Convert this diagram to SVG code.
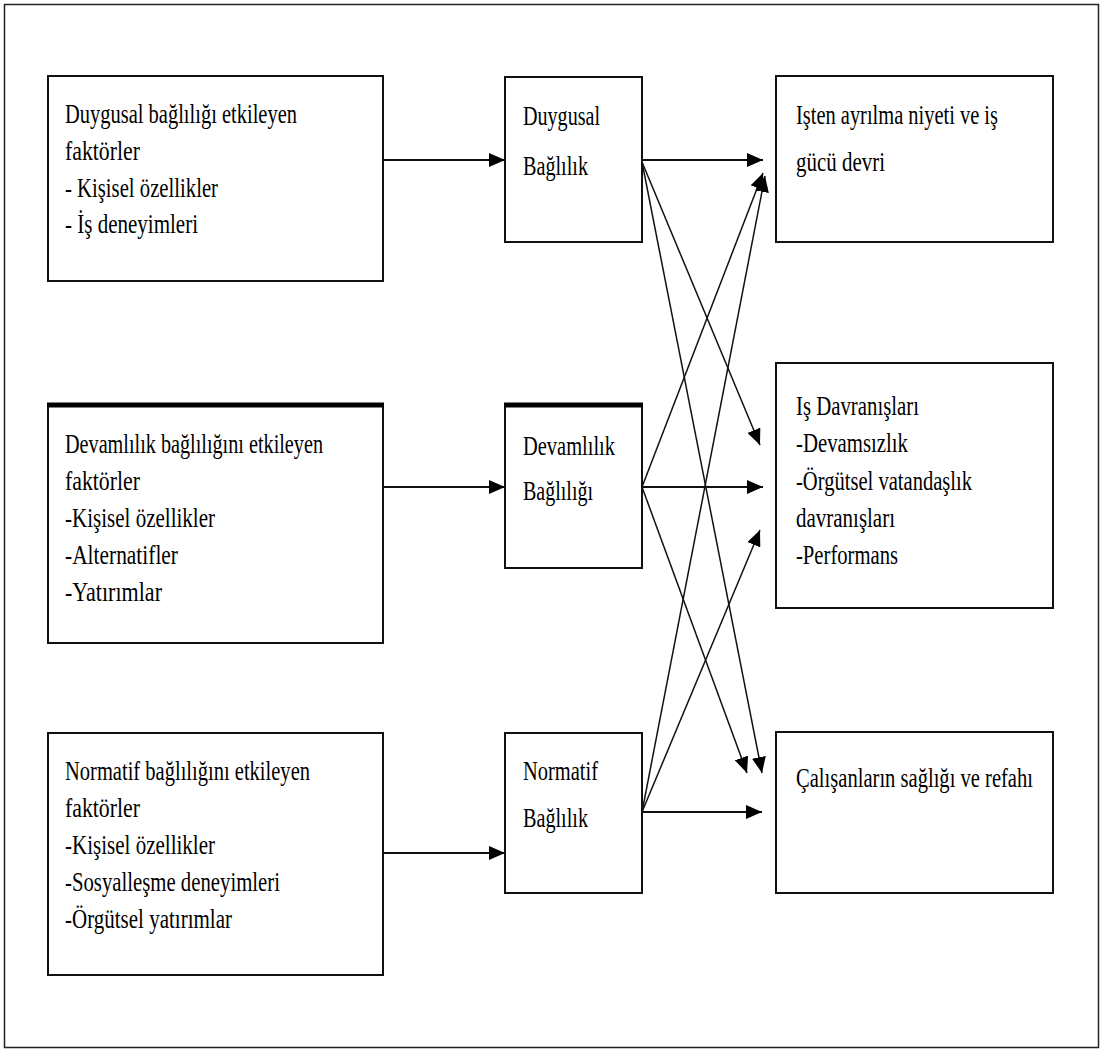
<svg xmlns="http://www.w3.org/2000/svg" width="1105" height="1052" viewBox="0 0 1105 1052">
<style>
.bx{fill:#fff;stroke:#111;stroke-width:2}
.thk{stroke:#000;stroke-width:5}
.t{font-family:"Liberation Serif","Times New Roman",serif;font-size:27px;fill:#000}
.c{stroke:#111;stroke-width:2;fill:none}
.d{stroke:#111;stroke-width:1.5;fill:none}
</style>
<defs>
<marker id="ah" markerUnits="userSpaceOnUse" markerWidth="16" markerHeight="14" refX="16" refY="7" orient="auto">
<path d="M0,0 L16,7 L0,14 z" fill="#000"/>
</marker>
</defs>
<rect x="0" y="0" width="1105" height="1052" fill="#fff"/>
<rect id="frame" x="4.5" y="4.5" width="1094" height="1043" fill="none" stroke="#222" stroke-width="1.5"/>

<g id="connectors">
<line class="c" x1="383" y1="160" x2="505" y2="160" marker-end="url(#ah)"/>
<line class="c" x1="383" y1="487" x2="505" y2="487" marker-end="url(#ah)"/>
<line class="c" x1="383" y1="853" x2="505" y2="853" marker-end="url(#ah)"/>
<line class="c" x1="642" y1="160" x2="763" y2="160" marker-end="url(#ah)"/>
<line class="d" x1="642" y1="162" x2="760" y2="445" marker-end="url(#ah)"/>
<line class="d" x1="642" y1="162" x2="762" y2="773" marker-end="url(#ah)"/>
<line class="d" x1="642" y1="487" x2="763" y2="173" marker-end="url(#ah)"/>
<line class="c" x1="642" y1="487" x2="763" y2="487" marker-end="url(#ah)"/>
<line class="d" x1="642" y1="487" x2="747" y2="773" marker-end="url(#ah)"/>
<line class="d" x1="642" y1="812" x2="765" y2="176" marker-end="url(#ah)"/>
<line class="d" x1="642" y1="812" x2="760" y2="530" marker-end="url(#ah)"/>
<line class="c" x1="642" y1="812" x2="762" y2="812" marker-end="url(#ah)"/>
</g>

<g id="n-duygusal-faktor">
<rect class="bx" x="48" y="76" width="335" height="205"/>
<text class="t" x="65" y="123" textLength="232" lengthAdjust="spacingAndGlyphs">Duygusal bağlılığı etkileyen</text>
<text class="t" x="65" y="160" textLength="75" lengthAdjust="spacingAndGlyphs">faktörler</text>
<text class="t" x="65" y="197" textLength="153" lengthAdjust="spacingAndGlyphs">- Kişisel özellikler</text>
<text class="t" x="65" y="233" textLength="133" lengthAdjust="spacingAndGlyphs">- İş deneyimleri</text>
</g>

<g id="n-devamlilik-faktor">
<rect class="bx" x="48" y="405" width="335" height="238"/>
<line class="thk" x1="47" y1="405" x2="384" y2="405"/>
<text class="t" x="65" y="453" textLength="258" lengthAdjust="spacingAndGlyphs">Devamlılık bağlılığını etkileyen</text>
<text class="t" x="65" y="490" textLength="75" lengthAdjust="spacingAndGlyphs">faktörler</text>
<text class="t" x="65" y="527" textLength="150" lengthAdjust="spacingAndGlyphs">-Kişisel özellikler</text>
<text class="t" x="65" y="564" textLength="113" lengthAdjust="spacingAndGlyphs">-Alternatifler</text>
<text class="t" x="65" y="601" textLength="97" lengthAdjust="spacingAndGlyphs">-Yatırımlar</text>
</g>

<g id="n-normatif-faktor">
<rect class="bx" x="48" y="733" width="335" height="242"/>
<text class="t" x="65" y="780" textLength="245" lengthAdjust="spacingAndGlyphs">Normatif bağlılığını etkileyen</text>
<text class="t" x="65" y="817" textLength="75" lengthAdjust="spacingAndGlyphs">faktörler</text>
<text class="t" x="65" y="854" textLength="150" lengthAdjust="spacingAndGlyphs">-Kişisel özellikler</text>
<text class="t" x="65" y="891" textLength="215" lengthAdjust="spacingAndGlyphs">-Sosyalleşme deneyimleri</text>
<text class="t" x="65" y="928" textLength="167" lengthAdjust="spacingAndGlyphs">-Örgütsel yatırımlar</text>
</g>

<g id="n-duygusal">
<rect class="bx" x="505" y="77" width="137" height="165"/>
<text class="t" x="523" y="125" textLength="77" lengthAdjust="spacingAndGlyphs">Duygusal</text>
<text class="t" x="523" y="175" textLength="65" lengthAdjust="spacingAndGlyphs">Bağlılık</text>
</g>

<g id="n-devamlilik">
<rect class="bx" x="505" y="405" width="137" height="163"/>
<line class="thk" x1="504" y1="405" x2="643" y2="405"/>
<text class="t" x="523" y="455" textLength="92" lengthAdjust="spacingAndGlyphs">Devamlılık</text>
<text class="t" x="523" y="500" textLength="70" lengthAdjust="spacingAndGlyphs">Bağlılığı</text>
</g>

<g id="n-normatif">
<rect class="bx" x="505" y="733" width="137" height="160"/>
<text class="t" x="523" y="780" textLength="75" lengthAdjust="spacingAndGlyphs">Normatif</text>
<text class="t" x="523" y="827" textLength="65" lengthAdjust="spacingAndGlyphs">Bağlılık</text>
</g>

<g id="n-isten-ayrilma">
<rect class="bx" x="776" y="76" width="277" height="166"/>
<text class="t" x="796" y="124" textLength="202" lengthAdjust="spacingAndGlyphs">Işten ayrılma niyeti ve iş</text>
<text class="t" x="796" y="171" textLength="89" lengthAdjust="spacingAndGlyphs">gücü devri</text>
</g>

<g id="n-is-davranislari">
<rect class="bx" x="776" y="363" width="277" height="245"/>
<text class="t" x="796" y="415" textLength="123" lengthAdjust="spacingAndGlyphs">Iş Davranışları</text>
<text class="t" x="796" y="452" textLength="112" lengthAdjust="spacingAndGlyphs">-Devamsızlık</text>
<text class="t" x="796" y="490" textLength="176" lengthAdjust="spacingAndGlyphs">-Örgütsel vatandaşlık</text>
<text class="t" x="796" y="527" textLength="99" lengthAdjust="spacingAndGlyphs">davranışları</text>
<text class="t" x="796" y="564" textLength="102" lengthAdjust="spacingAndGlyphs">-Performans</text>
</g>

<g id="n-calisanlar">
<rect class="bx" x="776" y="732" width="277" height="161"/>
<text class="t" x="796" y="787" textLength="237" lengthAdjust="spacingAndGlyphs">Çalışanların sağlığı ve refahı</text>
</g>
</svg>
